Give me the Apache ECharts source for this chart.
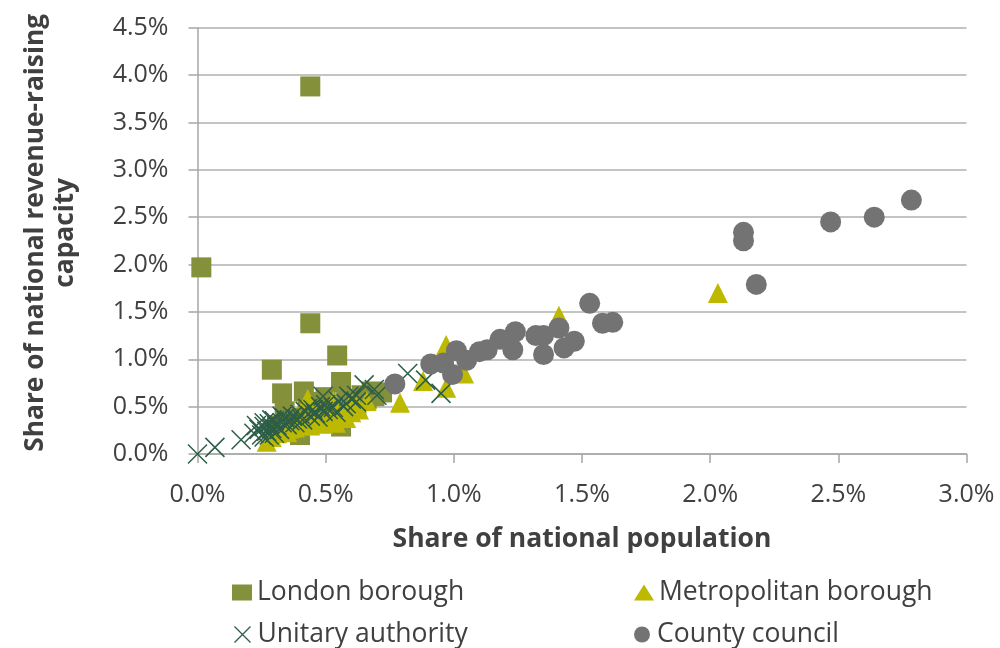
<!DOCTYPE html>
<html>
<head>
<meta charset="utf-8">
<script src="https://cdn.jsdelivr.net/npm/echarts@6/dist/echarts.min.js"></script>
<style>html,body{margin:0;padding:0;background:#fff}#c{width:1000px;height:648px}</style>
</head>
<body>
<div id="c"></div>
<script>
// Values in percent: [share of national population, share of revenue-raising capacity]
const seriesNames = ['London borough', 'Metropolitan borough', 'Unitary authority', 'County council'];
const xTicks = ['0.0%', '0.5%', '1.0%', '1.5%', '2.0%', '2.5%', '3.0%'];
const yTicks = ['0.0%', '0.5%', '1.0%', '1.5%', '2.0%', '2.5%', '3.0%', '3.5%', '4.0%', '4.5%'];

const londonBorough = [
  [0.44,3.88],[0.015,1.97],[0.44,1.38],[0.29,0.89],[0.545,1.04],[0.56,0.76],[0.33,0.64],
  [0.415,0.66],[0.69,0.61],[0.64,0.62],[0.60,0.58],[0.50,0.60],[0.47,0.55],[0.43,0.50],
  [0.52,0.48],[0.56,0.40],[0.56,0.29],[0.40,0.20],[0.45,0.33],[0.52,0.34],[0.36,0.38],
  [0.62,0.52],[0.48,0.42],[0.38,0.30],[0.34,0.45],[0.58,0.55],[0.66,0.58],[0.49,0.38],
  [0.31,0.30],[0.43,0.40],[0.54,0.45],[0.68,0.66],[0.72,0.65]
];
const metropolitanBorough = [
  [2.03,1.70],[1.41,1.46],[0.97,1.15],[1.04,0.85],[0.97,0.70],[0.88,0.77],[0.79,0.54],
  [0.43,0.58],[0.53,0.56],[0.63,0.47],[0.60,0.44],[0.55,0.40],[0.50,0.38],[0.45,0.35],
  [0.40,0.30],[0.36,0.27],[0.31,0.22],[0.27,0.13],[0.29,0.18],[0.33,0.25],[0.38,0.28],
  [0.42,0.33],[0.47,0.36],[0.52,0.42],[0.57,0.45],[0.62,0.50],[0.44,0.30],[0.35,0.23],
  [0.49,0.32],[0.58,0.38],[0.40,0.36],[0.66,0.56],[0.30,0.25],[0.54,0.33],[0.46,0.41],
  [0.60,0.54]
];
const unitaryAuthority = [
  [0.00,0.00],[0.068,0.07],[0.17,0.15],[0.82,0.85],[0.89,0.78],[0.95,0.64],[0.69,0.68],
  [0.65,0.73],[0.49,0.61],[0.59,0.61],[0.22,0.22],[0.24,0.26],[0.25,0.20],[0.26,0.29],
  [0.27,0.24],[0.28,0.32],[0.29,0.27],[0.30,0.22],[0.30,0.35],[0.31,0.30],[0.32,0.26],
  [0.33,0.33],[0.34,0.38],[0.35,0.31],[0.36,0.35],[0.37,0.40],[0.38,0.33],[0.39,0.37],
  [0.40,0.42],[0.41,0.36],[0.42,0.45],[0.44,0.40],[0.45,0.47],[0.46,0.43],[0.48,0.50],
  [0.49,0.45],[0.50,0.52],[0.51,0.47],[0.53,0.49],[0.55,0.56],[0.57,0.50],[0.58,0.53],
  [0.60,0.58],[0.62,0.55],[0.26,0.33],[0.23,0.30],[0.28,0.20],[0.33,0.40],[0.43,0.48],
  [0.47,0.39],[0.54,0.44],[0.62,0.62],[0.70,0.62],[0.26,0.18],[0.29,0.36]
];
const countyCouncil = [
  [0.77,0.74],[0.91,0.95],[0.96,0.96],[1.01,1.09],[0.995,0.84],[1.05,0.99],[1.10,1.08],
  [1.13,1.10],[1.18,1.21],[1.24,1.29],[1.23,1.10],[1.32,1.25],[1.35,1.25],[1.41,1.33],
  [1.35,1.05],[1.43,1.12],[1.47,1.19],[1.53,1.59],[1.58,1.38],[1.62,1.39],[2.13,2.34],
  [2.13,2.25],[2.18,1.79],[2.47,2.45],[2.64,2.50],[2.785,2.68]
];

const colors = ['#84903A', '#BDB800', '#2D5E48', '#737373'];
const font = '"Open Sans", "Noto Sans", sans-serif';
const crossPath = 'path://M0,0L10,10M10,0L0,10';

const chart = echarts.init(document.getElementById('c'), null, {renderer: 'canvas'});

function legendFor(i, left, top) {
  const isCross = i === 2;
  return {
    data: [{name: seriesNames[i], icon: isCross ? crossPath : (i===0?'rect':(i===1?'triangle':'circle'))}],
    left: left, top: top, padding: 0, itemWidth: 20, itemHeight: 16,
    textStyle: {fontFamily: font, fontSize: 26.5, color: '#404040'},
    itemStyle: isCross ? {color: 'none', borderColor: colors[2], borderWidth: 1.3} : {borderWidth: 0}
  };
}

chart.setOption({
  animation: false,
  textStyle: {fontFamily: font},
  grid: {left: 197.5, right: 33.5, top: 27.7, bottom: 194, containLabel: false},
  xAxis: {
    type: 'value', min: 0, max: 3, interval: 0.5,
    name: 'Share of national population', nameLocation: 'middle', nameGap: 72,
    nameTextStyle: {fontFamily: font, fontSize: 26.5, fontWeight: 'bold', color: '#404040'},
    axisLine: {show: true, lineStyle: {color: '#A6A6A6', width: 1.5}},
    axisTick: {show: true, length: 9, lineStyle: {color: '#A6A6A6', width: 1.5}},
    axisLabel: {fontFamily: font, fontSize: 25, color: '#404040', margin: 28,
      formatter: v => xTicks[Math.round(v / 0.5)]},
    splitLine: {show: false}
  },
  yAxis: {
    type: 'value', min: 0, max: 4.5, interval: 0.5,
    name: 'Share of national revenue-raising\ncapacity', nameLocation: 'middle', nameGap: 117,
    nameTextStyle: {fontFamily: font, fontSize: 26.3, fontWeight: 'bold', color: '#404040', lineHeight: 30,
      padding: [0, 0, 0, 16]},
    axisLine: {show: true, lineStyle: {color: '#A6A6A6', width: 1.5}},
    axisTick: {show: true, length: 9, lineStyle: {color: '#A6A6A6', width: 1.5}},
    axisLabel: {fontFamily: font, fontSize: 25, color: '#404040', margin: 29,
      formatter: v => yTicks[Math.round(v / 0.5)]},
    splitLine: {show: true, lineStyle: {color: '#B0B0B0', width: 1.5}}
  },
  legend: [
    legendFor(0, 232, 579),
    legendFor(1, 634, 579),
    legendFor(2, 232, 621),
    legendFor(3, 634, 621)
  ],
  series: [
    {name: seriesNames[0], type: 'scatter', data: londonBorough, symbol: 'rect', symbolSize: 20,
      itemStyle: {color: colors[0], opacity: 1}},
    {name: seriesNames[1], type: 'scatter', data: metropolitanBorough, symbol: 'triangle', symbolSize: 20,
      itemStyle: {color: colors[1], opacity: 1}},
    {name: seriesNames[2], type: 'scatter', data: unitaryAuthority, symbol: crossPath, symbolSize: 19,
      itemStyle: {color: 'none', borderColor: colors[2], borderWidth: 1.5, opacity: 1}},
    {name: seriesNames[3], type: 'scatter', data: countyCouncil, symbol: 'circle', symbolSize: 21,
      itemStyle: {color: colors[3], opacity: 1}}
  ]
});
</script>
</body>
</html>
